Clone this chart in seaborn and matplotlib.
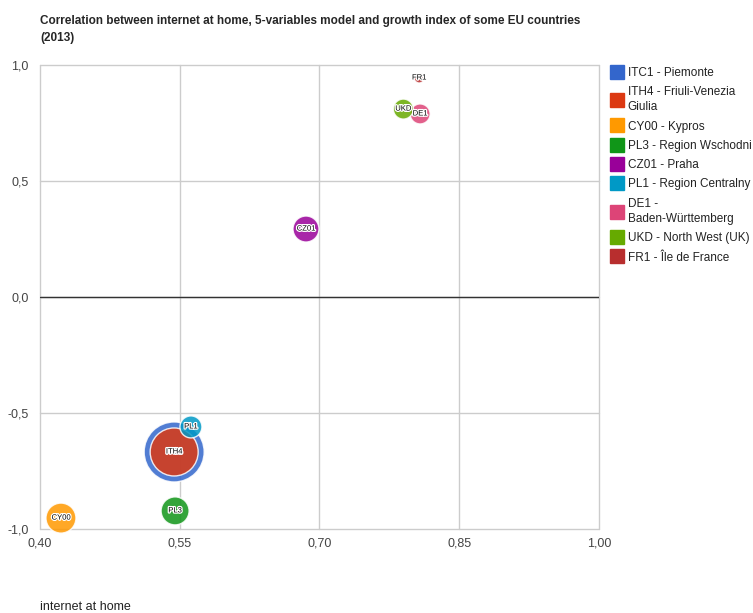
import pandas as pd
import matplotlib
matplotlib.use('Agg')
import matplotlib.pyplot as plt
import matplotlib.patheffects as pe
from matplotlib.lines import Line2D
from matplotlib.ticker import FuncFormatter
import seaborn as sns

# Data
codes = ['ITC1', 'ITH4', 'CY00', 'PL3', 'CZ01', 'PL1', 'DE1', 'UKD', 'FR1']
names = ['ITC1 - Piemonte', 'ITH4 - Friuli-Venezia\nGiulia', 'CY00 - Kypros',
         'PL3 - Region Wschodni', 'CZ01 - Praha', 'PL1 - Region Centralny',
         'DE1 -\nBaden-Württemberg', 'UKD - North West (UK)', 'FR1 - Île de France']
internet = [0.544, 0.544, 0.4225, 0.545, 0.6855, 0.562, 0.808, 0.790, 0.807]
model = [-0.668, -0.668, -0.953, -0.922, 0.293, -0.560, 0.789, 0.810, 0.944]
growth = [30, 24, 15, 14, 13, 11, 10, 10, 5]
colors = ['#3366cc', '#dc3912', '#ff9900', '#109618', '#990099',
          '#0099c6', '#dd4477', '#66aa00', '#b82e2e']

df = pd.DataFrame({'code': codes, 'name': names, 'x': internet, 'y': model, 'g': growth})

# bubble radius in px (min 5, max 30), converted to marker area
gmin, gmax = min(growth), max(growth)
def area(v):
    r = 5 + (v - gmin) / (gmax - gmin) * 25
    return (2 * r * 0.72) ** 2

sizes = {c: area(v) for c, v in zip(codes, growth)}
palette = dict(zip(codes, colors))

sns.set_theme(style='white')
plt.rcParams['font.family'] = ['Liberation Sans', 'DejaVu Sans']

fig = plt.figure(figsize=(7.53, 6.13), dpi=100)
ax = fig.add_axes([40 / 753, 1 - 529 / 613, 559 / 753, 464 / 613])

order = df.sort_values('g', ascending=False)
sns.scatterplot(data=order, x='x', y='y', hue='code', size='code', sizes=sizes,
                palette=palette, alpha=0.85, edgecolor='white', linewidth=1,
                legend=False, ax=ax, zorder=3, clip_on=False)

for _, row in order.iterrows():
    ax.text(row['x'], row['y'], row['code'], fontsize=5.5, ha='center', va='center',
            color='black', zorder=4,
            path_effects=[pe.withStroke(linewidth=1.8, foreground='white')])

ax.set_xlim(0.40, 1.00)
ax.set_ylim(-1.0, 1.0)
ax.set_xticks([0.40, 0.55, 0.70, 0.85, 1.00])
ax.set_yticks([-1.0, -0.5, 0.0, 0.5, 1.0])
ax.xaxis.set_major_formatter(FuncFormatter(lambda v, p: f'{v:.2f}'.replace('.', ',')))
ax.yaxis.set_major_formatter(FuncFormatter(lambda v, p: f'{v:.1f}'.replace('.', ',')))
ax.grid(True, color='#cccccc', linewidth=1)
for gl in ax.get_xgridlines() + ax.get_ygridlines():
    gl.set_clip_on(False)
ax.axhline(0, color='#333333', linewidth=1, zorder=2)
for s in ax.spines.values():
    s.set_visible(False)
ax.tick_params(axis='both', length=0, labelsize=9, labelcolor='#444444')
ax.tick_params(axis='x', pad=6)
ax.tick_params(axis='y', pad=8)
ax.set_xlabel('')
ax.set_ylabel('')

fig.text(40 / 753, 1 - 15 / 613, 'Correlation between internet at home, 5-variables model and growth index of some EU countries\n(2013)',
         fontsize=8.5, fontweight='bold', ha='left', va='top', linespacing=1.6)
fig.text(40 / 753, 1 - 607 / 613, 'internet at home', fontsize=9, color='#222222',
         ha='left', va='center')

handles = [Line2D([], [], marker='s', linestyle='', markersize=9.5, color=c) for c in colors]
leg = fig.legend(handles, names, loc='upper left', bbox_to_anchor=(607 / 753, 1 - 62 / 613),
                 frameon=False, fontsize=8.5, handlelength=0.9, handletextpad=0.45,
                 labelspacing=0.62, borderaxespad=0, labelcolor='#222222')
for t in leg.get_texts():
    t.set_linespacing(1.35)

fig.savefig('out.png', dpi=100)
